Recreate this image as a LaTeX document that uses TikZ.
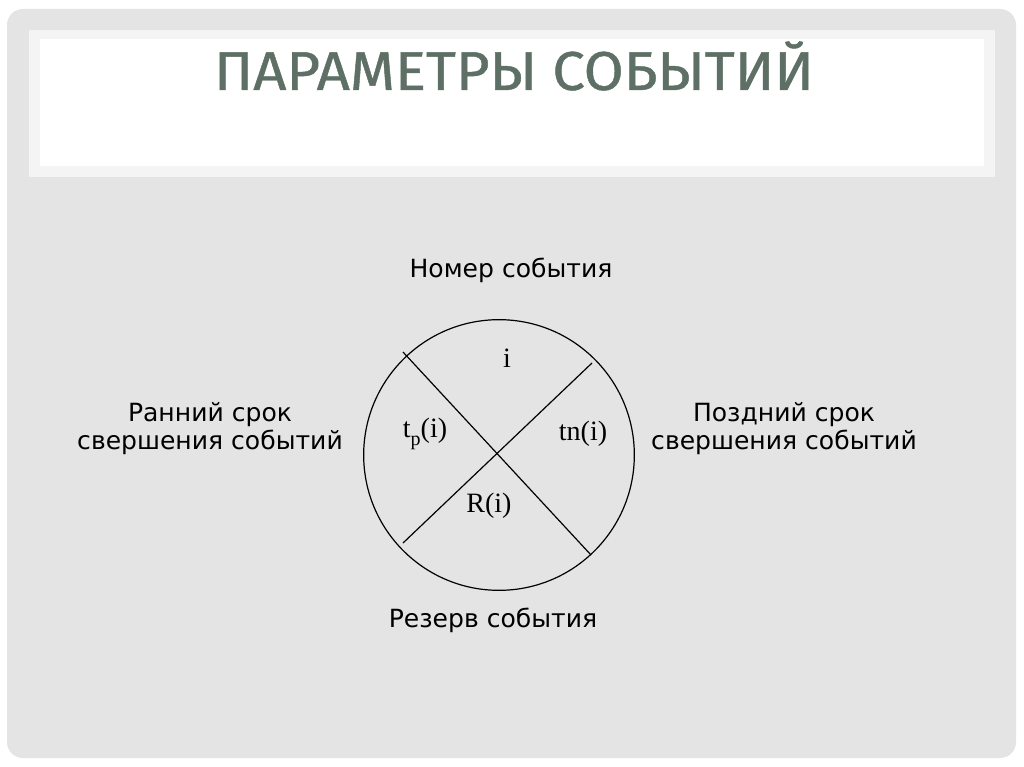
\documentclass[tikz,border=0pt]{standalone}
\usepackage{fontspec}
\setmainfont{DejaVu Sans}
\newfontfamily\tnr{Liberation Serif}
\newfontfamily\titlefont{Fira Sans}[FakeBold=0.8]
\definecolor{slidebg}{RGB}{228,228,228}
\definecolor{frameW}{RGB}{244,244,244}
\definecolor{titlecol}{RGB}{94,112,102}
\newcommand{\lowsub}[1]{\raisebox{-0.28em}{\fontsize{15}{16}\selectfont #1}}
\begin{document}
\begin{tikzpicture}[x=0.75pt,y=-0.75pt,
  lbl/.style={font=\fontsize{18.8}{21}\selectfont, align=center, text=black, inner sep=0pt},
  cell/.style={font=\tnr\fontsize{21}{24}\selectfont, text=black, inner sep=0pt},
  cross/.style={draw=black, line width=0.9pt}]
\useasboundingbox (0,0) rectangle (1024,767);
\fill[white] (0,0) rectangle (1024,767);
\fill[slidebg, rounded corners=12] (7,9) rectangle (1016,758);
\fill[frameW] (29,30) rectangle (995,177);
\fill[white] (40,39) rectangle (984,166);
\node[inner sep=0pt, text=titlecol] (title) at (514,66)
  {\scalebox{1.06}[1]{\titlefont\fontsize{41}{46}\selectfont ПАРАМЕТРЫ СОБЫТИЙ}};
% circle
\coordinate (c) at (499,455);
\node[draw=black, line width=0.9pt, circle, minimum size=203pt, inner sep=0pt] (circ) at (c) {};
\coordinate (a1) at (403,352);
\coordinate (a2) at (591,555);
\coordinate (b1) at (592,363);
\coordinate (b2) at (403,543);
\draw[cross] (a1) -- (a2);
\draw[cross] (b1) -- (b2);
\node[cell] (ni) at (507,358) {i};
\node[cell] (tp) at (425,434) {t\lowsub{p}(i)};
\node[cell] (tn) at (583,434) {tn(i)};
\node[cell] (ri) at (489,506) {R(i)};
\node[lbl] (top) at (511,270) {Номер события};
\node[lbl] (left) at (210,429) {Ранний срок\\свершения событий};
\node[lbl] (right) at (784,429) {Поздний срок\\свершения событий};
\node[lbl] (bot) at (493,620) {Резерв события};
\end{tikzpicture}
\end{document}
